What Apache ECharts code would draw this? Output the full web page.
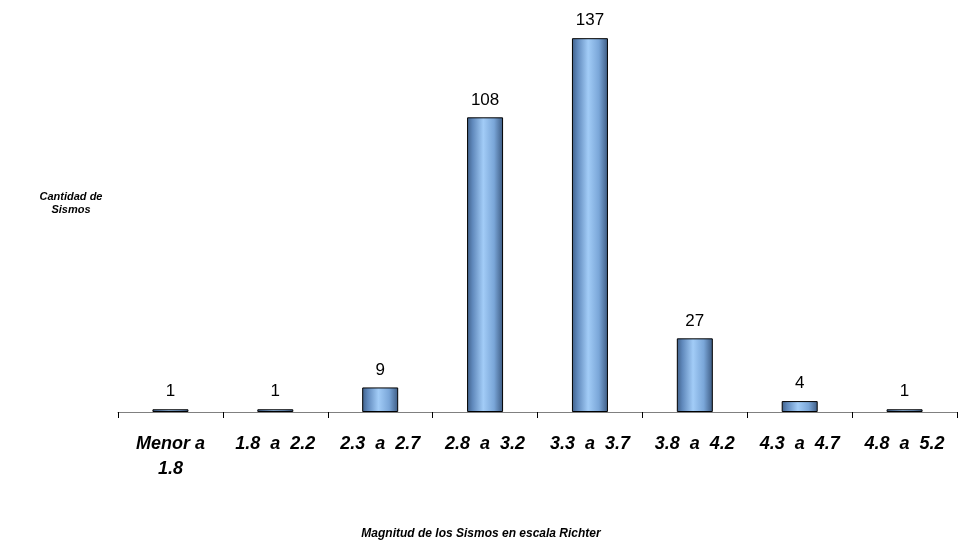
<!DOCTYPE html>
<html>
<head>
<meta charset="utf-8">
<script src="https://cdn.jsdelivr.net/npm/echarts@6/dist/echarts.min.js"></script>
<style>
  html, body { margin: 0; padding: 0; background: #fff; }
  #chart { width: 958px; height: 541px; }
</style>
</head>
<body>
<div id="chart"></div>
<script>
// Magnitude ranges (Richter) and earthquake counts
const categories = ['Menor a\n1.8', '1.8  a  2.2', '2.3  a  2.7', '2.8  a  3.2', '3.3  a  3.7', '3.8  a  4.2', '4.3  a  4.7', '4.8  a  5.2'];
const counts = [1, 1, 9, 108, 137, 27, 4, 1];

const yTitle = 'Cantidad de\nSismos';
const xTitle = 'Magnitud de los Sismos en escala Richter';

const chart = echarts.init(document.getElementById('chart'));

// cylinder-like shading across each bar
const barFill = new echarts.graphic.LinearGradient(0, 0, 1, 0, [
  { offset: 0, color: '#3f5f88' },
  { offset: 0.15, color: '#5f88bb' },
  { offset: 0.45, color: '#a2ccf7' },
  { offset: 0.75, color: '#7aa6d8' },
  { offset: 1, color: '#3c5a82' }
]);

chart.setOption({
  animation: false,
  backgroundColor: '#ffffff',
  grid: { left: 118, right: 1, top: 30, bottom: 129, containLabel: false },
  xAxis: {
    type: 'category',
    data: categories,
    boundaryGap: true,
    axisLine: { show: true, lineStyle: { color: '#808080', width: 1 } },
    axisTick: { show: true, alignWithLabel: false, length: 6, lineStyle: { color: '#000000' } },
    axisLabel: {
      interval: 0,
      margin: 20,
      color: '#000000',
      fontFamily: 'Liberation Sans, Arial',
      fontWeight: 'bold',
      fontStyle: 'italic',
      fontSize: 18,
      lineHeight: 25
    }
  },
  yAxis: {
    type: 'value',
    min: 0,
    max: 140,
    show: false,
    splitLine: { show: false }
  },
  series: [{
    type: 'bar',
    data: counts,
    barWidth: 36,
    itemStyle: { color: barFill, borderColor: '#000000', borderWidth: 1 },
    label: {
      show: true,
      position: 'top',
      distance: 9,
      color: '#000000',
      fontFamily: 'Liberation Sans, Arial',
      fontSize: 17
    }
  }],
  graphic: [
    {
      type: 'text',
      x: 71,
      y: 190,
      style: {
        text: yTitle,
        fill: '#000000',
        font: 'italic bold 11px "Liberation Sans", Arial',
        align: 'center',
        verticalAlign: 'top',
        lineHeight: 13
      },
      z: 10
    },
    {
      type: 'text',
      x: 481,
      y: 534,
      style: {
        text: xTitle,
        fill: '#000000',
        font: 'italic bold 12px "Liberation Sans", Arial',
        align: 'center',
        verticalAlign: 'middle'
      },
      z: 10
    }
  ]
});
</script>
</body>
</html>
